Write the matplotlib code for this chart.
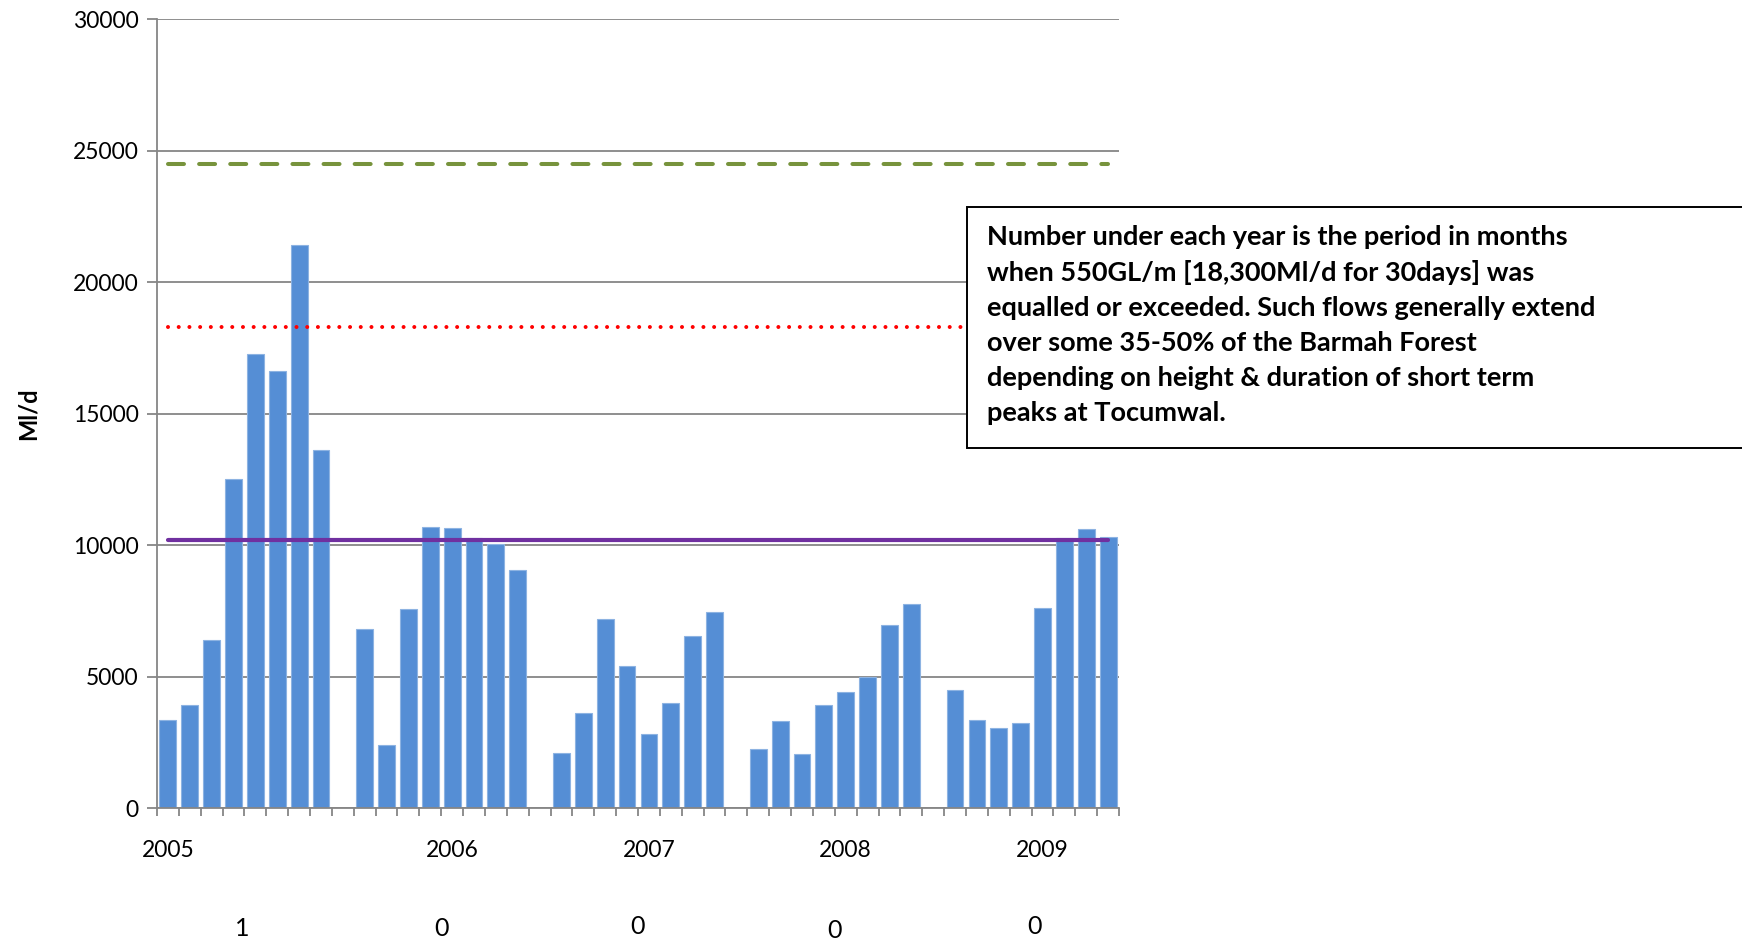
import numpy as np
import matplotlib
matplotlib.use("Agg")
import matplotlib.pyplot as plt
from matplotlib.patches import Rectangle

plt.rcParams['font.family'] = ['Lato', 'DejaVu Sans']
plt.rcParams['lines.scale_dashes'] = False

# monthly flows (Ml/d), 8 months shown for each year
flow_2005 = [3350, 3900, 6400, 12500, 17250, 16600, 21400, 13600]
flow_2006 = [6800, 2400, 7550, 10700, 10650, 10250, 10050, 9050]
flow_2007 = [2100, 3600, 7200, 5400, 2800, 4000, 6550, 7450]
flow_2008 = [2250, 3300, 2050, 3900, 4400, 4980, 6950, 7750]
flow_2009 = [4500, 3350, 3050, 3250, 7600, 10250, 10600, 10320]
groups = [flow_2005, flow_2006, flow_2007, flow_2008, flow_2009]

years = ['2005', '2006', '2007', '2008', '2009']
year_slots = [0, 13, 22, 31, 40]
months_over = ['1', '0', '0', '0', '0']

line_green = 24500   # dashed
line_red = 18300     # dotted, 550GL/m
line_purple = 10200  # solid

n_slots = 44

# bar positions: 8 bars then an empty slot
xs, ys = [], []
for g, vals in enumerate(groups):
    for i, v in enumerate(vals):
        xs.append(g * 9 + i)
        ys.append(v)

fig = plt.figure(figsize=(17.42, 9.41), dpi=100)
ax = fig.add_axes([0.0901, 0.1413, 0.5523, 0.8385])

ax.bar(xs, ys, width=0.77, color='#558ED5', edgecolor='#8DB3E2', linewidth=0.8, zorder=2)

xl = [0, n_slots - 1]
ax.plot(xl, [line_green] * 2, color='#77933C', lw=2.9, dashes=(11.5, 10.9),
        dash_capstyle='round', zorder=3)
ax.plot(xl, [line_red] * 2, color='#FF0000', lw=2.9, dashes=(0.01, 7.7),
        dash_capstyle='round', zorder=3)
ax.plot(xl, [line_purple] * 2, color='#7030A0', lw=3.0, solid_capstyle='round', zorder=3)

ax.set_xlim(-0.5, n_slots - 0.5)
ax.set_ylim(0, 30000)
ax.set_yticks(np.arange(0, 30001, 5000))
ax.grid(axis='y', color='#868686', lw=1.3, zorder=0)
ax.set_axisbelow(True)

labels = [''] * n_slots
for s, y in zip(year_slots, years):
    labels[s] = y
ax.set_xticks(np.arange(n_slots))
ax.set_xticklabels(labels)
ax.set_xticks(np.arange(-0.5, n_slots), minor=True)
ax.tick_params(axis='x', which='major', length=0, pad=23, labelsize=16.5)
ax.tick_params(axis='x', which='minor', length=6, width=1.3, color='#868686')
ax.tick_params(axis='y', length=7, width=1.3, color='#868686', labelsize=16.5, pad=6)

for side in ['top', 'right']:
    ax.spines[side].set_visible(False)
for side in ['left', 'bottom']:
    ax.spines[side].set_color('#868686')
    ax.spines[side].set_linewidth(1.3)

ax.set_ylabel('Ml/d', fontsize=17, fontweight='bold', labelpad=24)

# numbers under each year (free text in the original)
num_pos = [(242, 928), (441, 928), (637, 926), (834, 931), (1034, 927)]
for t, (px, py) in zip(months_over, num_pos):
    fig.text(px / 1742, 1 - py / 941, t, fontsize=18, ha='center', va='center')

# note box
box = Rectangle((967 / 1742, 1 - 448 / 941), 0.5, 241 / 941, transform=fig.transFigure,
                facecolor='white', edgecolor='black', lw=1.4, zorder=10)
fig.patches.append(box)
note = ("Number under each year is the period in months\n"
        "when 550GL/m [18,300Ml/d for 30days] was\n"
        "equalled or exceeded. Such flows generally extend\n"
        "over some 35-50% of the Barmah Forest\n"
        "depending on height & duration of short term\n"
        "peaks at Tocumwal.")
fig.text(987 / 1742, 1 - 225 / 941, note, fontsize=19.5, fontweight='bold',
         ha='left', va='top', linespacing=1.54, zorder=11)

fig.savefig('out.png', dpi=100)
